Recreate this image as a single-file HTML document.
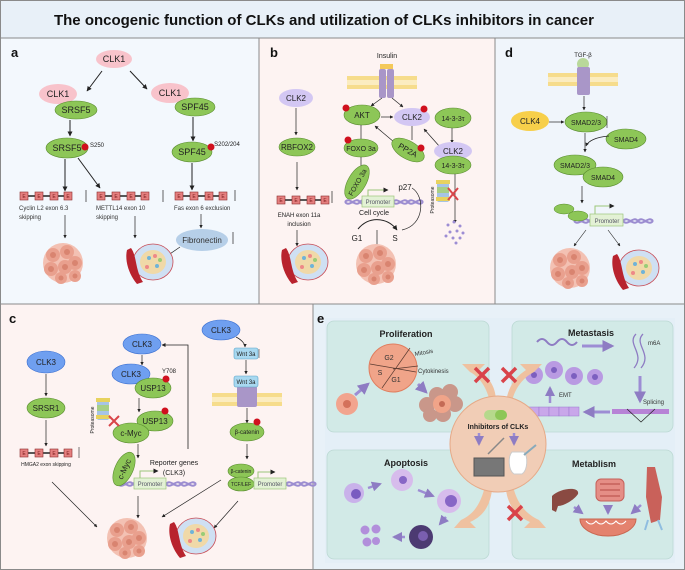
<!DOCTYPE html>
<html><head><meta charset="utf-8"><style>
body{margin:0;padding:0;background:#fff}
svg{display:block;font-family:"Liberation Sans",Arial,sans-serif}
</style></head><body>
<svg width="685" height="570" viewBox="0 0 685 570" xmlns="http://www.w3.org/2000/svg">
<defs>
<marker id="ar" viewBox="0 0 10 10" refX="9" refY="5" markerWidth="5" markerHeight="5" orient="auto"><path d="M0,0L10,5L0,10z" fill="#222"/></marker>
<marker id="pa" viewBox="0 0 10 10" refX="8" refY="5" markerWidth="4" markerHeight="4" orient="auto"><path d="M0,0L10,5L0,10z" fill="#8e7cc3"/></marker>
<g id="tum"><circle cx="0" cy="0" r="20" fill="#f3c1b3"/>
<g fill="#e9a08e"><circle cx="-10" cy="-8" r="7"/><circle cx="4" cy="-11" r="7"/><circle cx="12" cy="0" r="7"/><circle cx="-12" cy="6" r="7"/><circle cx="2" cy="4" r="7"/><circle cx="-2" cy="15" r="6"/><circle cx="12" cy="13" r="6"/></g>
<g fill="#d98470"><circle cx="-10" cy="-8" r="3"/><circle cx="4" cy="-11" r="3"/><circle cx="12" cy="0" r="3"/><circle cx="-12" cy="6" r="3"/><circle cx="2" cy="4" r="3"/><circle cx="-2" cy="15" r="2.5"/><circle cx="12" cy="13" r="2.5"/></g></g>
<g id="vas"><ellipse cx="6" cy="0" rx="20" ry="18" fill="#cfe0f3" stroke="#c84b55" stroke-width="0.8"/>
<ellipse cx="6" cy="0" rx="13" ry="12" fill="#f0d9a8"/>
<g fill="#6fb3d8"><circle cx="2" cy="-4" r="2"/><circle cx="10" cy="4" r="2"/></g><g fill="#e88"><circle cx="8" cy="-6" r="2"/><circle cx="0" cy="5" r="2"/></g><g fill="#9c7"><circle cx="13" cy="-2" r="2"/></g>
<path d="M-16,-14 C-10,-6 -12,8 -4,20 L-10,22 C-20,10 -22,-4 -20,-12z" fill="#b8232e"/></g>
<g id="ex"><line x1="0" y1="0" x2="52" y2="0" stroke="#222" stroke-width="1.5"/>
<g fill="#e57f7f" stroke="#8b2a2a" stroke-width="0.6"><rect x="0" y="-4" width="8" height="8"/><rect x="15" y="-4" width="8" height="8"/><rect x="30" y="-4" width="8" height="8"/><rect x="44" y="-4" width="8" height="8"/></g>
<g font-size="5" fill="#7a1a1a" text-anchor="middle"><text x="4" y="2">E</text><text x="19" y="2">E</text><text x="34" y="2">E</text><text x="48" y="2">E</text></g></g>
<g id="mem"><g fill="#f6dc8c"><rect x="0" y="0" width="70" height="4"/><rect x="0" y="9" width="70" height="4"/></g><rect x="0" y="4" width="70" height="5" fill="#fbecc0"/></g>
<g id="dna"><path d="M0,0 C5,-6 10,6 15,0 C20,-6 25,6 30,0 M0,0 C5,6 10,-6 15,0 C20,6 25,-6 30,0" fill="none" stroke="#9b8cd0" stroke-width="2"/></g>
</defs>

<!-- backgrounds -->
<rect x="0" y="0" width="685" height="38" fill="#e8f0f8"/>
<rect x="0" y="38" width="259" height="266" fill="#f3f8fd"/>
<rect x="259" y="38" width="236" height="266" fill="#fdf3f2"/>
<rect x="495" y="38" width="190" height="266" fill="#f0f5fb"/>
<rect x="0" y="304" width="313" height="266" fill="#fdf3f2"/>
<rect x="313" y="304" width="372" height="266" fill="#e8f1f8"/>
<g stroke="#8a8a8a" stroke-width="1" fill="none">
<rect x="0.5" y="0.5" width="684" height="569"/>
<line x1="0" y1="38" x2="685" y2="38"/><line x1="0" y1="304" x2="685" y2="304"/>
<line x1="259" y1="38" x2="259" y2="304"/><line x1="495" y1="38" x2="495" y2="304"/><line x1="313" y1="304" x2="313" y2="570"/></g>
<text x="324" y="25" font-size="15" font-weight="bold" text-anchor="middle" fill="#111">The oncogenic function of CLKs and utilization of CLKs inhibitors in cancer</text>

<g font-weight="bold" font-size="13" fill="#111"><text x="11" y="57">a</text><text x="270" y="57">b</text><text x="505" y="57">d</text><text x="9" y="323">c</text><text x="317" y="323">e</text></g>

<!-- PANEL A -->
<g font-size="9" text-anchor="middle" fill="#222">
<ellipse cx="114" cy="59" rx="18" ry="9" fill="#f8c3cb"/><text x="114" y="62">CLK1</text>
<line x1="102" y1="71" x2="87" y2="91" stroke="#222" marker-end="url(#ar)"/>
<line x1="130" y1="71" x2="147" y2="89" stroke="#222" marker-end="url(#ar)"/>
<ellipse cx="58" cy="94" rx="19" ry="10" fill="#f8c3cb"/><text x="58" y="97">CLK1</text>
<ellipse cx="76" cy="110" rx="21" ry="9" fill="#8dc657" stroke="#5a8d30" stroke-width="0.6"/><text x="76" y="113">SRSF5</text>
<ellipse cx="170" cy="93" rx="19" ry="10" fill="#f8c3cb"/><text x="170" y="96">CLK1</text>
<ellipse cx="195" cy="107" rx="20" ry="9" fill="#8dc657" stroke="#5a8d30" stroke-width="0.6"/><text x="195" y="110">SPF45</text>
<line x1="70" y1="120" x2="70" y2="136" stroke="#222" marker-end="url(#ar)"/>
<line x1="193" y1="117" x2="193" y2="141" stroke="#222" marker-end="url(#ar)"/>
<ellipse cx="67" cy="148" rx="21" ry="10" fill="#8dc657" stroke="#5a8d30" stroke-width="0.6"/><text x="67" y="151">SRSF5</text>
<circle cx="85" cy="147" r="3.5" fill="#d0101e"/><text x="97" y="147" font-size="6">S250</text>
<ellipse cx="192" cy="152" rx="20" ry="10" fill="#8dc657" stroke="#5a8d30" stroke-width="0.6"/><text x="192" y="155">SPF45</text>
<circle cx="211" cy="147" r="3.5" fill="#d0101e"/><text x="227" y="146" font-size="6">S202/204</text>
<line x1="65" y1="159" x2="65" y2="191" stroke="#222" marker-end="url(#ar)"/>
<line x1="78" y1="158" x2="100" y2="188" stroke="#222" marker-end="url(#ar)"/>
<line x1="192" y1="163" x2="192" y2="190" stroke="#222" marker-end="url(#ar)"/>
</g>
<use href="#ex" x="20" y="196"/><use href="#ex" x="97" y="196"/><use href="#ex" x="175" y="196"/>
<g font-size="6" fill="#333"><text x="19" y="210">Cyclin L2 exon 6.3</text><text x="19" y="219">skipping</text>
<text x="96" y="210">METTL14 exon 10</text><text x="96" y="219">skipping</text><text x="174" y="210">Fas exon 6 exclusion</text></g>
<g stroke="#222" stroke-width="0.7"><line x1="86" y1="202" x2="86" y2="190"/><line x1="163" y1="190" x2="163" y2="202"/><line x1="235" y1="201" x2="235" y2="190"/><line x1="233" y1="244" x2="233" y2="232"/>
<line x1="65" y1="215" x2="65" y2="238" marker-end="url(#ar)"/><line x1="135" y1="216" x2="135" y2="238" marker-end="url(#ar)"/><line x1="201" y1="214" x2="201" y2="228" marker-end="url(#ar)"/><line x1="180" y1="247" x2="164" y2="258" marker-end="url(#ar)"/></g>
<ellipse cx="202" cy="240" rx="26" ry="11" fill="#b6cfe8"/><text x="202" y="243" font-size="8" text-anchor="middle" fill="#333">Fibronectin</text>
<use href="#tum" x="63" y="263"/><use href="#vas" x="147" y="262"/>

<!-- PANEL B -->
<g font-size="8" text-anchor="middle" fill="#222">
<text x="387" y="58" font-size="7">Insulin</text>
<use href="#mem" x="347" y="76"/>
<rect x="380" y="64" width="13" height="5" fill="#f4c95a"/>
<rect x="379" y="69" width="7" height="29" rx="2" fill="#a996c8"/><rect x="387" y="69" width="7" height="29" rx="2" fill="#a996c8"/>
<line x1="382" y1="98" x2="371" y2="106" stroke="#222" stroke-width="0.7" marker-end="url(#ar)"/>
<line x1="392" y1="98" x2="403" y2="107" stroke="#222" stroke-width="0.7" marker-end="url(#ar)"/>
<ellipse cx="296" cy="98" rx="17" ry="9" fill="#d3c7f3"/><text x="296" y="101">CLK2</text>
<line x1="296" y1="108" x2="296" y2="135" stroke="#222" stroke-width="0.7" marker-end="url(#ar)"/>
<ellipse cx="297" cy="147" rx="18" ry="9" fill="#8dc657" stroke="#5a8d30" stroke-width="0.6"/><text x="297" y="150">RBFOX2</text>
<line x1="297" y1="162" x2="297" y2="190" stroke="#222" stroke-width="0.7" marker-end="url(#ar)"/>
<text x="299" y="217" font-size="6">ENAH exon 11a</text><text x="299" y="226" font-size="6">inclusion</text>
<line x1="332" y1="203" x2="332" y2="191" stroke="#222" stroke-width="0.7"/>
<line x1="297" y1="230" x2="297" y2="246" stroke="#222" stroke-width="0.7" marker-end="url(#ar)"/>
<ellipse cx="362" cy="115" rx="18" ry="10" fill="#8dc657" stroke="#5a8d30" stroke-width="0.6"/><text x="362" y="118">AKT</text>
<circle cx="346" cy="108" r="3.5" fill="#d0101e"/>
<ellipse cx="412" cy="117" rx="18" ry="9" fill="#d3c7f3"/><text x="412" y="120">CLK2</text>
<circle cx="424" cy="109" r="3.5" fill="#d0101e"/>
<ellipse cx="453" cy="118" rx="18" ry="10" fill="#8dc657" stroke="#5a8d30" stroke-width="0.6"/><text x="453" y="121" font-size="7">14-3-3τ</text>
<line x1="381" y1="117" x2="393" y2="117" stroke="#222" stroke-width="0.7" marker-end="url(#ar)"/>
<line x1="394" y1="142" x2="375" y2="126" stroke="#222" stroke-width="0.7" marker-end="url(#ar)"/>
<line x1="440" y1="147" x2="424" y2="129" stroke="#222" stroke-width="0.7" marker-end="url(#ar)"/>
<line x1="452" y1="128" x2="452" y2="143" stroke="#222" stroke-width="0.7" marker-end="url(#ar)"/>
<line x1="361" y1="125" x2="361" y2="139" stroke="#222" stroke-width="0.7"/>
<line x1="412" y1="126" x2="412" y2="140" stroke="#222" stroke-width="0.7"/>
<ellipse cx="361" cy="148" rx="17" ry="9" fill="#8dc657" stroke="#5a8d30" stroke-width="0.6"/><text x="361" y="151" font-size="7">FOXO 3a</text>
<circle cx="348" cy="140" r="3.5" fill="#d0101e"/>
<ellipse cx="408" cy="150" rx="18" ry="9" fill="#8dc657" stroke="#5a8d30" stroke-width="0.6" transform="rotate(30 408 150)"/><text x="408" y="153" transform="rotate(30 408 150)">PP2A</text>
<circle cx="421" cy="148" r="3.5" fill="#d0101e"/>
<ellipse cx="453" cy="151" rx="19" ry="9" fill="#d3c7f3"/><text x="453" y="154">CLK2</text>
<ellipse cx="453" cy="165" rx="18" ry="9" fill="#8dc657" stroke="#5a8d30" stroke-width="0.6"/><text x="453" y="168" font-size="7">14-3-3τ</text>
<line x1="361" y1="157" x2="361" y2="172" stroke="#222" stroke-width="0.7" marker-end="url(#ar)"/>
<line x1="455" y1="174" x2="455" y2="223" stroke="#222" stroke-width="0.7" marker-end="url(#ar)"/>
<use href="#dna" x="345" y="202"/><use href="#dna" x="393" y="202"/>
<rect x="362" y="196" width="32" height="11" fill="#e3f1d5" stroke="#9cc67a" stroke-width="0.7"/><text x="378" y="204" font-size="6" fill="#556">Promoter</text>
<path d="M368,196 V190 H388" fill="none" stroke="#9cc67a" marker-end="url(#ar)"/>
<ellipse cx="357" cy="182" rx="19" ry="9" fill="#8dc657" stroke="#5a8d30" stroke-width="0.6" transform="rotate(-60 357 182)"/><text x="357" y="185" font-size="7" transform="rotate(-60 357 182)">FOXO 3a</text>
<text x="405" y="190">p27</text>
<path d="M412,188 C425,196 425,225 402,230" fill="none" stroke="#222" stroke-width="0.7"/>
<text x="374" y="215" font-size="7">Cell cycle</text>
<path d="M358,229 C370,215 388,218 397,230" fill="none" stroke="#222" stroke-width="1" marker-end="url(#ar)"/>
<text x="357" y="241">G1</text><text x="395" y="241">S</text>
<line x1="377" y1="230" x2="377" y2="250" stroke="#222" stroke-width="0.7" marker-end="url(#ar)"/>
<g transform="translate(437,180)"><rect x="0" y="0" width="12" height="22" rx="2" fill="#a6c4e6"/><rect x="-1" y="0" width="14" height="4" fill="#e7d25e"/><rect x="-1" y="17" width="14" height="4" fill="#e7d25e"/><rect x="0" y="7" width="12" height="6" fill="#a7cf86"/></g>
<text x="434" y="200" font-size="5" transform="rotate(-90 434 200)">Proteasome</text>
<path d="M448,188 L458,200 M458,188 L448,200" stroke="#d8454a" stroke-width="2"/>
</g>
<g fill="#9d8dd4"><circle cx="448" cy="225" r="1.5"/><circle cx="454" cy="222" r="1.5"/><circle cx="460" cy="226" r="1.5"/><circle cx="450" cy="232" r="1.5"/><circle cx="457" cy="231" r="1.5"/><circle cx="463" cy="233" r="1.5"/><circle cx="446" cy="236" r="1.5"/><circle cx="453" cy="238" r="1.5"/><circle cx="460" cy="238" r="1.5"/><circle cx="456" cy="243" r="1.5"/></g>
<use href="#ex" x="277" y="200"/>
<use href="#vas" x="302" y="262"/><use href="#tum" x="376" y="264"/>

<!-- PANEL D -->
<g font-size="8" text-anchor="middle" fill="#222">
<text x="583" y="57" font-size="6">TGF-β</text>
<use href="#mem" x="548" y="73"/>
<circle cx="583" cy="64" r="6" fill="#b9d89a"/>
<rect x="577" y="67" width="13" height="28" rx="2" fill="#a996c8"/>
<line x1="584" y1="96" x2="584" y2="110" stroke="#222" stroke-width="0.7" marker-end="url(#ar)"/>
<ellipse cx="530" cy="121" rx="19" ry="10" fill="#f7cf4a"/><text x="530" y="124">CLK4</text>
<line x1="549" y1="122" x2="564" y2="122" stroke="#222" stroke-width="0.7" marker-end="url(#ar)"/>
<ellipse cx="586" cy="122" rx="21" ry="10" fill="#8dc657" stroke="#5a8d30" stroke-width="0.6"/><text x="586" y="125" font-size="7">SMAD2/3</text>
<line x1="607" y1="128" x2="607" y2="116" stroke="#222" stroke-width="0.6"/>
<ellipse cx="626" cy="139" rx="20" ry="10" fill="#8dc657" stroke="#5a8d30" stroke-width="0.6"/><text x="626" y="142" font-size="7">SMAD4</text>
<path d="M609,136 C596,137 588,141 586,146" fill="none" stroke="#222" stroke-width="0.7" marker-end="url(#ar)"/>
<line x1="585" y1="133" x2="585" y2="152" stroke="#222" stroke-width="0.7" marker-end="url(#ar)"/>
<ellipse cx="575" cy="165" rx="21" ry="10" fill="#8dc657" stroke="#5a8d30" stroke-width="0.6"/><text x="575" y="168" font-size="7">SMAD2/3</text>
<ellipse cx="603" cy="177" rx="20" ry="10" fill="#8dc657" stroke="#5a8d30" stroke-width="0.6"/><text x="603" y="180" font-size="7">SMAD4</text>
<line x1="582" y1="186" x2="582" y2="203" stroke="#222" stroke-width="0.7" marker-end="url(#ar)"/>
<use href="#dna" x="574" y="221"/><use href="#dna" x="623" y="221"/>
<rect x="590" y="214" width="33" height="12" fill="#e3f1d5" stroke="#9cc67a" stroke-width="0.7"/><text x="607" y="223" font-size="6" fill="#556">Promoter</text>
<path d="M595,214 V206 H614" fill="none" stroke="#9cc67a" marker-end="url(#ar)"/>
<ellipse cx="564" cy="209" rx="10" ry="5" fill="#8dc657" stroke="#5a8d30" stroke-width="0.5"/>
<ellipse cx="578" cy="216" rx="10" ry="5" fill="#8dc657" stroke="#5a8d30" stroke-width="0.5"/>
<line x1="586" y1="230" x2="574" y2="246" stroke="#222" stroke-width="0.6" marker-end="url(#ar)"/>
<line x1="608" y1="230" x2="620" y2="246" stroke="#222" stroke-width="0.6" marker-end="url(#ar)"/>
</g>
<use href="#tum" x="570" y="268"/><use href="#vas" x="633" y="268"/>

<!-- PANEL C -->
<g font-size="8" text-anchor="middle" fill="#222">
<ellipse cx="46" cy="362" rx="19" ry="11" fill="#6f9ff0" stroke="#3b6fd0" stroke-width="0.6"/><text x="46" y="365">CLK3</text>
<line x1="46" y1="374" x2="46" y2="396" stroke="#222" stroke-width="0.7" marker-end="url(#ar)"/>
<ellipse cx="46" cy="408" rx="19" ry="10" fill="#8dc657" stroke="#5a8d30" stroke-width="0.6"/><text x="46" y="411">SRSR1</text>
<line x1="46" y1="420" x2="46" y2="446" stroke="#222" stroke-width="0.7" marker-end="url(#ar)"/>
<text x="46" y="466" font-size="5">HMGA2 exon skipping</text>
<line x1="79" y1="458" x2="79" y2="447" stroke="#222" stroke-width="0.6"/>
<ellipse cx="142" cy="344" rx="19" ry="10" fill="#6f9ff0" stroke="#3b6fd0" stroke-width="0.6"/><text x="142" y="347">CLK3</text>
<line x1="142" y1="355" x2="142" y2="365" stroke="#222" stroke-width="0.7" marker-end="url(#ar)"/>
<ellipse cx="131" cy="374" rx="19" ry="10" fill="#6f9ff0" stroke="#3b6fd0" stroke-width="0.6"/><text x="131" y="377">CLK3</text>
<ellipse cx="153" cy="388" rx="18" ry="10" fill="#8dc657" stroke="#5a8d30" stroke-width="0.6"/><text x="153" y="391">USP13</text>
<circle cx="166" cy="379" r="3.5" fill="#d0101e"/><text x="169" y="373" font-size="6">Y708</text>
<line x1="139" y1="398" x2="139" y2="412" stroke="#222" stroke-width="0.7" marker-end="url(#ar)"/>
<ellipse cx="155" cy="421" rx="18" ry="10" fill="#8dc657" stroke="#5a8d30" stroke-width="0.6"/><text x="155" y="424">USP13</text>
<circle cx="165" cy="411" r="3.5" fill="#d0101e"/>
<ellipse cx="131" cy="433" rx="18" ry="10" fill="#8dc657" stroke="#5a8d30" stroke-width="0.6"/><text x="131" y="436">c-Myc</text>
<g transform="translate(97,398)"><rect x="0" y="0" width="12" height="22" rx="2" fill="#a6c4e6"/><rect x="-1" y="0" width="14" height="4" fill="#e7d25e"/><rect x="-1" y="17" width="14" height="4" fill="#e7d25e"/><rect x="0" y="7" width="12" height="6" fill="#a7cf86"/></g>
<text x="94" y="420" font-size="5" transform="rotate(-90 94 420)">Proteasome</text>
<path d="M109,416 L119,426 M119,416 L109,426" stroke="#d8454a" stroke-width="2"/>
<line x1="138" y1="444" x2="138" y2="458" stroke="#222" stroke-width="0.7" marker-end="url(#ar)"/>
<path d="M188,449 V345 H162" fill="none" stroke="#222" stroke-width="0.8" marker-end="url(#ar)"/>
<text x="174" y="465" font-size="7">Reporter genes</text><text x="174" y="475" font-size="7">(CLK3)</text>
<use href="#dna" x="118" y="484"/><use href="#dna" x="166" y="484"/>
<rect x="134" y="478" width="32" height="11" fill="#e3f1d5" stroke="#9cc67a" stroke-width="0.7"/><text x="150" y="486" font-size="6" fill="#556">Promoter</text>
<path d="M140,478 V471 H158" fill="none" stroke="#9cc67a" marker-end="url(#ar)"/>
<ellipse cx="124" cy="469" rx="18" ry="9" fill="#8dc657" stroke="#5a8d30" stroke-width="0.6" transform="rotate(-65 124 469)"/><text x="124" y="472" transform="rotate(-65 124 469)">c-Myc</text>
<ellipse cx="221" cy="330" rx="19" ry="10" fill="#6f9ff0" stroke="#3b6fd0" stroke-width="0.6"/><text x="221" y="333">CLK3</text>
<path d="M236,337 C242,340 245,344 245,347" fill="none" stroke="#222" stroke-width="0.7" marker-end="url(#ar)"/>
<rect x="234" y="348" width="24" height="11" rx="2" fill="#a8d8f0" stroke="#5aa4c8" stroke-width="0.6"/><text x="246" y="356" font-size="6">Wnt 3a</text>
<line x1="259" y1="358" x2="259" y2="349" stroke="#222" stroke-width="0.5"/>
<line x1="246" y1="360" x2="246" y2="374" stroke="#222" stroke-width="0.7" marker-end="url(#ar)"/>
<use href="#mem" x="212" y="393"/>
<rect x="237" y="386" width="20" height="21" rx="2" fill="#a996c8"/>
<rect x="234" y="376" width="24" height="11" rx="2" fill="#a8d8f0" stroke="#5aa4c8" stroke-width="0.6"/><text x="246" y="384" font-size="6">Wnt 3a</text>
<line x1="247" y1="408" x2="247" y2="423" stroke="#222" stroke-width="0.7" marker-end="url(#ar)"/>
<ellipse cx="247" cy="432" rx="17" ry="9" fill="#8dc657" stroke="#5a8d30" stroke-width="0.6"/><text x="247" y="434" font-size="6">β-catenin</text>
<circle cx="257" cy="422" r="3.5" fill="#d0101e"/>
<line x1="247" y1="444" x2="247" y2="459" stroke="#222" stroke-width="0.7" marker-end="url(#ar)"/>
<ellipse cx="241" cy="471" rx="13" ry="7" fill="#8dc657" stroke="#5a8d30" stroke-width="0.6"/><text x="241" y="473" font-size="5">β-catenin</text>
<ellipse cx="241" cy="484" rx="13" ry="7" fill="#8dc657" stroke="#5a8d30" stroke-width="0.6"/><text x="241" y="486" font-size="5">TCF/LEF</text>
<use href="#dna" x="286" y="484"/>
<rect x="254" y="478" width="32" height="11" fill="#e3f1d5" stroke="#9cc67a" stroke-width="0.7"/><text x="270" y="486" font-size="6" fill="#556">Promoter</text>
<path d="M258,478 V472 H275" fill="none" stroke="#9cc67a" marker-end="url(#ar)"/>
<g stroke="#222" stroke-width="0.7"><line x1="52" y1="482" x2="97" y2="527" marker-end="url(#ar)"/><line x1="138" y1="496" x2="138" y2="518" marker-end="url(#ar)"/><line x1="221" y1="480" x2="162" y2="517" marker-end="url(#ar)"/><line x1="238" y1="501" x2="214" y2="528" marker-end="url(#ar)"/></g>
</g>
<use href="#ex" x="20" y="453"/>
<use href="#tum" x="127" y="538"/><use href="#vas" x="190" y="536"/>

<!-- PANEL E -->
<rect x="325" y="318" width="350" height="245" fill="#e4eff7"/>
<g fill="#d2eae7" stroke="#bcd9d4" stroke-width="0.8">
<rect x="327" y="321" width="162" height="111" rx="7"/><rect x="512" y="321" width="161" height="111" rx="7"/>
<rect x="327" y="450" width="162" height="109" rx="7"/><rect x="512" y="450" width="161" height="109" rx="7"/></g>
<g font-weight="bold" font-size="9" text-anchor="middle" fill="#222">
<text x="406" y="337">Proliferation</text><text x="591" y="336">Metastasis</text><text x="406" y="466">Apoptosis</text><text x="594" y="467">Metablism</text></g>
<!-- cell cycle -->
<circle cx="393" cy="368" r="24" fill="#f0a489" stroke="#e07e5f"/>
<g stroke="#5a3a30" stroke-width="0.7"><line x1="370" y1="364" x2="416" y2="372"/><line x1="382" y1="388" x2="410" y2="348"/><line x1="393" y1="369" x2="418" y2="366"/></g>
<g font-size="7" fill="#333" text-anchor="middle"><text x="389" y="360">G2</text><text x="380" y="375">S</text><text x="396" y="382">G1</text></g>
<g font-size="6" fill="#333"><text x="415" y="356" transform="rotate(-10 415 356)">Mitosis</text><text x="418" y="373">Cytokinesis</text></g>
<circle cx="347" cy="404" r="11" fill="#f2a48e"/><circle cx="347" cy="404" r="4" fill="#d4715b"/>
<line x1="355" y1="395" x2="368" y2="384" stroke="#9d8dd4" stroke-width="3" marker-end="url(#pa)"/>
<line x1="418" y1="384" x2="426" y2="392" stroke="#9d8dd4" stroke-width="3" marker-end="url(#pa)"/>
<g fill="#c9978a"><circle cx="437" cy="395" r="8"/><circle cx="450" cy="392" r="8"/><circle cx="427" cy="405" r="8"/><circle cx="455" cy="404" r="8"/><circle cx="443" cy="414" r="8"/><circle cx="430" cy="415" r="7"/></g>
<circle cx="442" cy="404" r="9" fill="#f0a489"/><circle cx="442" cy="404" r="3" fill="#c46a55"/>
<!-- metastasis -->
<path d="M537,342 q5,-6 10,0 t10,0 t10,0 t10,0" fill="none" stroke="#8e7cc3" stroke-width="2"/>
<line x1="582" y1="346" x2="612" y2="346" stroke="#9d8dd4" stroke-width="3" marker-end="url(#pa)"/>
<path d="M636,334 C626,344 646,354 634,368 M643,334 C633,344 653,354 641,368" fill="none" stroke="#8e7cc3" stroke-width="1.3"/>
<text x="648" y="345" font-size="6" fill="#333">m6A</text>
<line x1="640" y1="376" x2="640" y2="401" stroke="#9d8dd4" stroke-width="3" marker-end="url(#pa)"/>
<text x="643" y="404" font-size="6" fill="#333">Splicing</text>
<rect x="612" y="409" width="57" height="5" fill="#b783d6"/>
<path d="M627,409 L641,422 L655,409" fill="none" stroke="#222" stroke-width="0.7"/>
<line x1="610" y1="412" x2="585" y2="412" stroke="#9d8dd4" stroke-width="3" marker-end="url(#pa)"/>
<g fill="#c9a7ea" stroke="#9c78d0" stroke-width="0.5"><rect x="529" y="407" width="10" height="9"/><rect x="539" y="407" width="10" height="9"/><rect x="549" y="407" width="10" height="9"/><rect x="559" y="407" width="10" height="9"/><rect x="569" y="407" width="10" height="9"/></g>
<line x1="550" y1="403" x2="550" y2="388" stroke="#9d8dd4" stroke-width="2.5" marker-end="url(#pa)"/>
<text x="559" y="397" font-size="6" fill="#333">EMT</text>
<g fill="#b99ae2"><circle cx="534" cy="375" r="9"/><circle cx="554" cy="370" r="9"/><circle cx="574" cy="376" r="9"/><circle cx="595" cy="377" r="8"/></g>
<g fill="#7c5fbf"><circle cx="534" cy="375" r="3"/><circle cx="554" cy="370" r="3"/><circle cx="574" cy="376" r="3"/><circle cx="595" cy="377" r="3"/></g>
<!-- apoptosis -->
<circle cx="354" cy="493" r="10" fill="#c9b2ea"/><circle cx="356" cy="494" r="5" fill="#7a5cc0"/>
<line x1="368" y1="488" x2="380" y2="484" stroke="#9d8dd4" stroke-width="2.5" marker-end="url(#pa)"/>
<circle cx="402" cy="480" r="11" fill="#d7bcec"/><circle cx="403" cy="480" r="4" fill="#8766c6"/>
<line x1="418" y1="490" x2="433" y2="496" stroke="#9d8dd4" stroke-width="2.5" marker-end="url(#pa)"/>
<circle cx="449" cy="501" r="12" fill="#d7bcec"/><circle cx="451" cy="501" r="6" fill="#8766c6"/>
<line x1="446" y1="517" x2="440" y2="524" stroke="#9d8dd4" stroke-width="2.5" marker-end="url(#pa)"/>
<circle cx="421" cy="537" r="12" fill="#4c3a72"/><circle cx="423" cy="536" r="5" fill="#7a5fb0"/>
<line x1="405" y1="537" x2="394" y2="537" stroke="#9d8dd4" stroke-width="2.5" marker-end="url(#pa)"/>
<g fill="#b28fdb"><circle cx="365" cy="530" r="4.5"/><circle cx="376" cy="529" r="4.5"/><circle cx="367" cy="542" r="4.5"/><circle cx="376" cy="541" r="4"/></g>
<!-- metabolism -->
<path d="M552,496 C560,488 580,486 578,494 C574,500 564,506 558,506 L556,512 L552,510 z" fill="#8a4a42"/>
<rect x="596" y="479" width="28" height="22" rx="5" fill="#e58e86" stroke="#c5605a"/>
<path d="M600,484 h20 M600,490 h20 M600,496 h20" stroke="#c5605a" stroke-width="1.5"/>
<path d="M647,467 L655,467 L662,497 L660,520 L651,523 L646,497 z" fill="#c9615a"/>
<path d="M648,520 L645,530 M658,520 L662,530" stroke="#8fbde0" stroke-width="2"/>
<path d="M580,519 a28,17 0 0 0 56,0 z" fill="#e4826e" stroke="#c96650"/>
<path d="M586,521 q5,6 10,0 q5,6 10,0 q5,6 10,0 q5,6 10,0" fill="none" stroke="#fff" stroke-width="1"/>
<g stroke="#9d8dd4" stroke-width="2.5"><line x1="574" y1="507" x2="582" y2="513" marker-end="url(#pa)"/><line x1="608" y1="505" x2="608" y2="513" marker-end="url(#pa)"/><line x1="641" y1="505" x2="632" y2="513" marker-end="url(#pa)"/></g>
<!-- center -->
<path d="M490,402 C486,385 478,376 470,372 L462,364 L485,364 L479,370 C490,378 496,388 496,402z" fill="#efc1a0"/>
<path d="M506,402 C508,388 514,378 526,370 L520,364 L542,364 L534,372 C522,378 514,390 512,402z" fill="#efc1a0"/>
<path d="M492,490 C490,505 484,516 470,522 L476,528 L454,528 L461,520 C474,514 480,504 484,490z" fill="#efc1a0"/>
<path d="M506,490 C508,505 516,516 530,522 L524,528 L546,528 L539,520 C526,514 518,504 514,490z" fill="#efc1a0"/>
<circle cx="498" cy="444" r="48" fill="#f1cdb6" stroke="#e6a987" stroke-width="1"/>
<g stroke="#d9434a" stroke-width="3.5"><path d="M475,368 l14,14 M489,368 l-14,14"/><path d="M502,368 l14,14 M516,368 l-14,14"/><path d="M508,506 l14,14 M522,506 l-14,14"/></g>
<rect x="484" y="410" width="23" height="10" rx="5" fill="#b6d98c"/><rect x="495" y="410" width="12" height="10" rx="5" fill="#8dc657"/>
<text x="498" y="429" font-size="7" font-weight="bold" text-anchor="middle" fill="#222">Inhibitors of CLKs</text>
<line x1="479" y1="433" x2="479" y2="444" stroke="#9d8dd4" stroke-width="2.5" marker-end="url(#pa)"/>
<line x1="514" y1="433" x2="514" y2="444" stroke="#9d8dd4" stroke-width="2.5" marker-end="url(#pa)"/>
<rect x="474" y="458" width="30" height="18" fill="#777" stroke="#555"/>
<line x1="488" y1="454" x2="504" y2="438" stroke="#888" stroke-width="1.5"/>
<path d="M512,452 c-4,4 -4,18 2,22 h8 c6,-4 6,-18 2,-22 z" fill="#fff" stroke="#ccc"/>
<line x1="524" y1="455" x2="536" y2="445" stroke="#8ab" stroke-width="2"/>
</svg>
</body></html>
